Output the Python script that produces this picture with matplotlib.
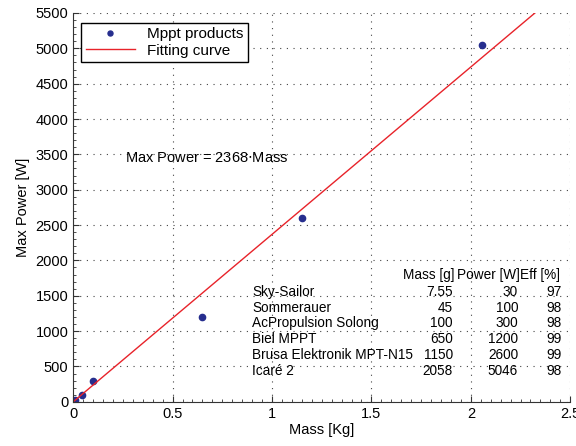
import matplotlib
matplotlib.use('Agg')
import matplotlib.pyplot as plt
from matplotlib.ticker import MultipleLocator
import numpy as np

plt.rcParams['font.family'] = ['Liberation Sans', 'DejaVu Sans']

# données des produits MPPT
names = ['Sky-Sailor', 'Sommerauer', 'AcPropulsion Solong', 'Biel MPPT',
         'Brusa Elektronik MPT-N15', 'Icaré 2']
mass_g = [7.55, 45, 100, 650, 1150, 2058]
power_w = [30, 100, 300, 1200, 2600, 5046]
eff = [97, 98, 98, 99, 99, 98]
fit_coef = 2368
fit_range = [0, 2.5]

mass_kg = np.array(mass_g) / 1000.0
x_fit = np.array(fit_range)

fig = plt.figure(figsize=(5.76, 4.46), dpi=100)
ax = fig.add_axes([0.127, 0.099, 0.863, 0.872])

ax.plot(mass_kg, power_w, 'o', color='#262e8e', markersize=4.5, label='Mppt products')
ax.plot(x_fit, fit_coef * x_fit, '-', color='#e8232a', linewidth=1.0, label='Fitting curve')

ax.set_xlim(0, 2.5)
ax.set_ylim(0, 5500)
ax.xaxis.set_major_locator(MultipleLocator(0.5))
ax.xaxis.set_minor_locator(MultipleLocator(0.05))
ax.yaxis.set_major_locator(MultipleLocator(500))
ax.yaxis.set_minor_locator(MultipleLocator(100))
ax.set_xticks([0, 0.5, 1, 1.5, 2, 2.5])
ax.set_xticklabels(['0', '0.5', '1', '1.5', '2', '2.5'])
ax.tick_params(which='both', direction='in', labelsize=10.5, color='#333333')
ax.tick_params(which='major', length=4)
ax.tick_params(which='minor', length=2)
ax.spines['top'].set_visible(False)
ax.spines['right'].set_visible(False)
ax.spines['left'].set_color('#333333')
ax.spines['bottom'].set_color('#333333')
ax.grid(True, which='major', linestyle=(0, (1, 5)), color='#444444', linewidth=0.8)

ax.set_xlabel('Mass [Kg]', fontsize=10.5, labelpad=2)
ax.set_ylabel('Max Power [W]', fontsize=10.5, labelpad=4)

leg = ax.legend(loc='upper left', bbox_to_anchor=(0.016, 0.975), fontsize=11,
                fancybox=False, framealpha=1, edgecolor='black', markerscale=0.8,
                borderpad=0.3, handlelength=3.2, labelspacing=0.15, borderaxespad=0)
leg.get_frame().set_linewidth(1.0)

ax.text(0.104, 0.627, 'Max Power = %d$\\cdot$Mass' % fit_coef, transform=ax.transAxes,
        fontsize=10.5, va='center')

# tableau
fs = 9.8
y0 = 0.327
dy = 0.0405
ax.text(0.768, y0, 'Mass [g]', transform=ax.transAxes, ha='right', va='center', fontsize=fs)
ax.text(0.899, y0, 'Power [W]', transform=ax.transAxes, ha='right', va='center', fontsize=fs)
ax.text(0.98, y0, 'Eff [%]', transform=ax.transAxes, ha='right', va='center', fontsize=fs)
for i, (n, m, p, e) in enumerate(zip(names, mass_g, power_w, eff)):
    y = y0 - (i + 1) * dy - 0.004
    ax.text(0.36, y, n, transform=ax.transAxes, ha='left', va='center', fontsize=fs)
    ax.text(0.764, y, ('%g' % m), transform=ax.transAxes, ha='right', va='center', fontsize=fs)
    ax.text(0.895, y, str(p), transform=ax.transAxes, ha='right', va='center', fontsize=fs)
    ax.text(0.983, y, str(e), transform=ax.transAxes, ha='right', va='center', fontsize=fs)

fig.savefig('out.png', dpi=100)
